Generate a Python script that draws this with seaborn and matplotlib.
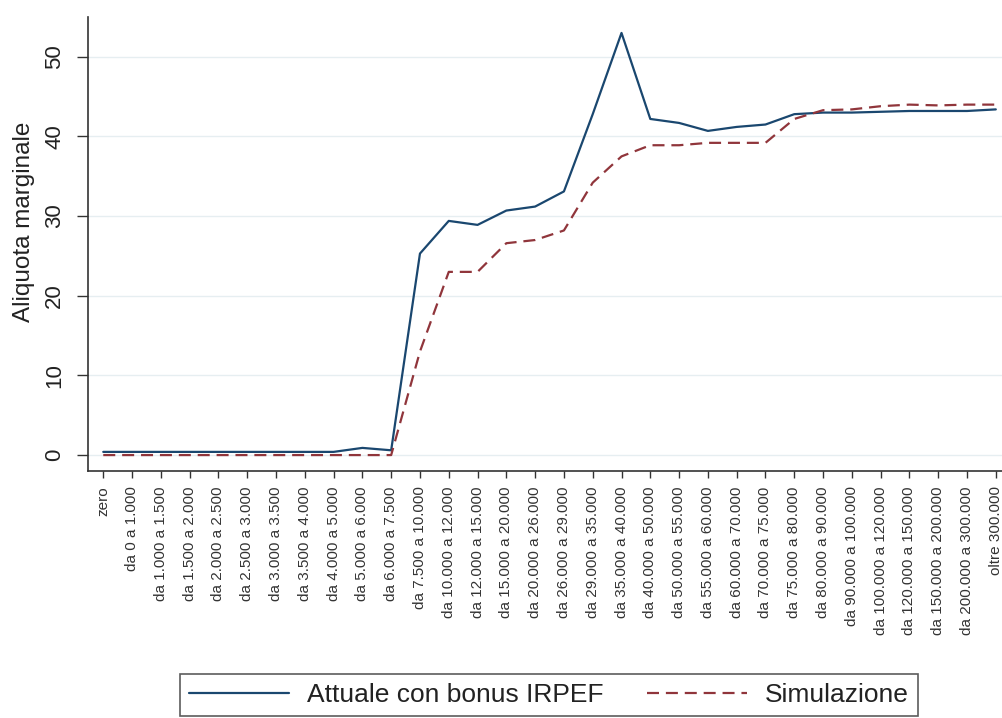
import numpy as np
import pandas as pd
import matplotlib
matplotlib.use("Agg")
import matplotlib.pyplot as plt
import seaborn as sns

# Income brackets (euro)
categories = [
    "zero", "da 0 a 1.000", "da 1.000 a 1.500", "da 1.500 a 2.000",
    "da 2.000 a 2.500", "da 2.500 a 3.000", "da 3.000 a 3.500",
    "da 3.500 a 4.000", "da 4.000 a 5.000", "da 5.000 a 6.000",
    "da 6.000 a 7.500", "da 7.500 a 10.000", "da 10.000 a 12.000",
    "da 12.000 a 15.000", "da 15.000 a 20.000", "da 20.000 a 26.000",
    "da 26.000 a 29.000", "da 29.000 a 35.000", "da 35.000 a 40.000",
    "da 40.000 a 50.000", "da 50.000 a 55.000", "da 55.000 a 60.000",
    "da 60.000 a 70.000", "da 70.000 a 75.000", "da 75.000 a 80.000",
    "da 80.000 a 90.000", "da 90.000 a 100.000", "da 100.000 a 120.000",
    "da 120.000 a 150.000", "da 150.000 a 200.000", "da 200.000 a 300.000",
    "oltre 300.000",
]

# Marginal tax rate (%) per bracket
attuale = [
    0.4, 0.4, 0.4, 0.4, 0.4, 0.4, 0.4, 0.4, 0.4, 0.9, 0.6,
    25.3, 29.4, 28.9, 30.7, 31.2, 33.1, 42.8, 53.0, 42.2, 41.7,
    40.7, 41.2, 41.5, 42.8, 43.0, 43.0, 43.1, 43.2, 43.2, 43.2, 43.4,
]
simulazione = [
    0.0, 0.0, 0.0, 0.0, 0.0, 0.0, 0.0, 0.0, 0.0, 0.0, 0.0,
    13.0, 23.0, 23.0, 26.6, 27.0, 28.2, 34.2, 37.5, 38.9, 38.9,
    39.2, 39.2, 39.2, 42.2, 43.3, 43.4, 43.8, 44.0, 43.9, 44.0, 44.0,
]

series_names = ["Attuale con bonus IRPEF", "Simulazione"]
yticks = [0, 10, 20, 30, 40, 50]

pos = np.arange(len(categories))
df = pd.concat([
    pd.DataFrame({"pos": pos, "aliquota": attuale, "serie": series_names[0]}),
    pd.DataFrame({"pos": pos, "aliquota": simulazione, "serie": series_names[1]}),
])

sns.set_theme(style="white")
plt.rcParams["font.family"] = ["Liberation Sans", "DejaVu Sans"]

fig = plt.figure(figsize=(10.03, 7.18), dpi=100)
ax = fig.add_axes([88 / 1003, 247 / 718, (1003 - 88) / 1003, 454 / 718])

palette = {series_names[0]: "#1a476f", series_names[1]: "#90353b"}
sns.lineplot(
    data=df, x="pos", y="aliquota", hue="serie", style="serie",
    palette=palette, dashes={series_names[0]: "", series_names[1]: (5.4, 3.1)},
    linewidth=1.6, ax=ax, legend=False, sort=False,
)

ax.set_xlim(-0.53, len(categories) - 1 + 0.25)
ax.set_ylim(-2.0, 55)
ax.set_yticks(yticks)
ax.set_yticklabels([str(v) for v in yticks], rotation=90, va="center",
                   fontsize=16, color="#222222")
ax.set_xticks(pos)
ax.set_xticklabels(categories, rotation=90, fontsize=11, color="#333333")
ax.set_xlabel("")
ax.set_ylabel("Aliquota marginale", fontsize=17.5, color="#222222")
ax.yaxis.set_label_coords(-0.058, 0.548)

ax.yaxis.grid(True, color="#e6eef1", linewidth=1.0)
ax.xaxis.grid(False)
ax.set_axisbelow(True)

for side in ["top", "right"]:
    ax.spines[side].set_visible(False)
for side in ["left", "bottom"]:
    ax.spines[side].set_color("#333333")
    ax.spines[side].set_linewidth(1.2)

ax.tick_params(axis="x", direction="out", length=5, width=1.0,
               color="#333333", bottom=True, pad=6)
ax.tick_params(axis="y", direction="out", length=8, width=1.0,
               color="#333333", left=True, pad=8.5)

handles = ax.get_lines()[:2]
leg = fig.legend(
    handles, series_names, loc="upper center", ncol=2,
    bbox_to_anchor=(549 / 1003, 44 / 718), fontsize=19,
    frameon=True, fancybox=False, edgecolor="#333333",
    handlelength=3.8, handletextpad=0.68, columnspacing=1.63,
    borderpad=0.35, borderaxespad=0,
)
leg.get_frame().set_linewidth(1.2)
for text in leg.get_texts():
    text.set_color("#222222")

fig.savefig("out.png", dpi=100)
